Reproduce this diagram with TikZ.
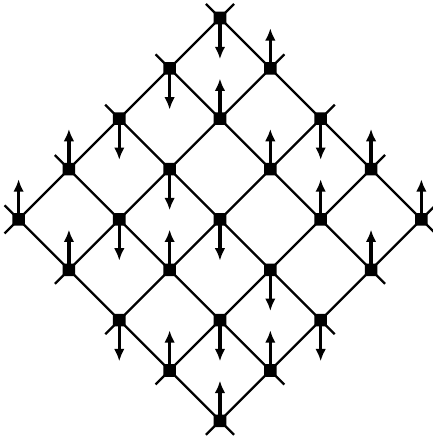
\documentclass[tikz,border=0pt]{standalone}
\usepackage{tikz}
\usetikzlibrary{arrows.meta}

\begin{document}
\begin{tikzpicture}[
    site/.style={rectangle, fill, inner sep=0pt, minimum size=0.25cm, rounded corners=0.8pt},
    bond/.style={line width=1.3pt},
    spin/.style={-{Latex[length=7pt,width=6pt]}, line width=1.9pt}
]
\useasboundingbox (-4.382,0.359) rectangle (4.243,-8.386);

\foreach \i in {0,...,4}
  \foreach \j in {0,...,4}
    \node[site] (s\i\j) at ({1.003*(\j-\i)},{-1.003*(\i+\j)}) {};

% lattice lines with short ends past the border
\foreach \k in {0,...,4} {
  \coordinate (ne\k) at ([shift={(0.28,0.28)}]s0\k.center);
  \coordinate (sw\k) at ([shift={(-0.28,-0.28)}]s4\k.center);
  \coordinate (nw\k) at ([shift={(-0.28,0.28)}]s\k0.center);
  \coordinate (se\k) at ([shift={(0.28,-0.28)}]s\k4.center);
  \draw[bond] (ne\k) -- (sw\k);
  \draw[bond] (nw\k) -- (se\k);
}

% spins
\foreach \i/\j in {0/1,1/1,3/0,1/2,0/3,4/0,1/3,0/4,4/1,3/2,1/4,4/3,3/4,4/4} {
  \coordinate (t\i\j) at ([yshift=0.8cm]s\i\j.center);
  \draw[spin] (s\i\j.center) -- (t\i\j);
}
\foreach \i/\j in {0/0,1/0,2/0,0/2,2/1,3/1,2/2,2/3,4/2,3/3,2/4} {
  \coordinate (t\i\j) at ([yshift=-0.82cm]s\i\j.center);
  \draw[spin] (s\i\j.center) -- (t\i\j);
}
\end{tikzpicture}
\end{document}
